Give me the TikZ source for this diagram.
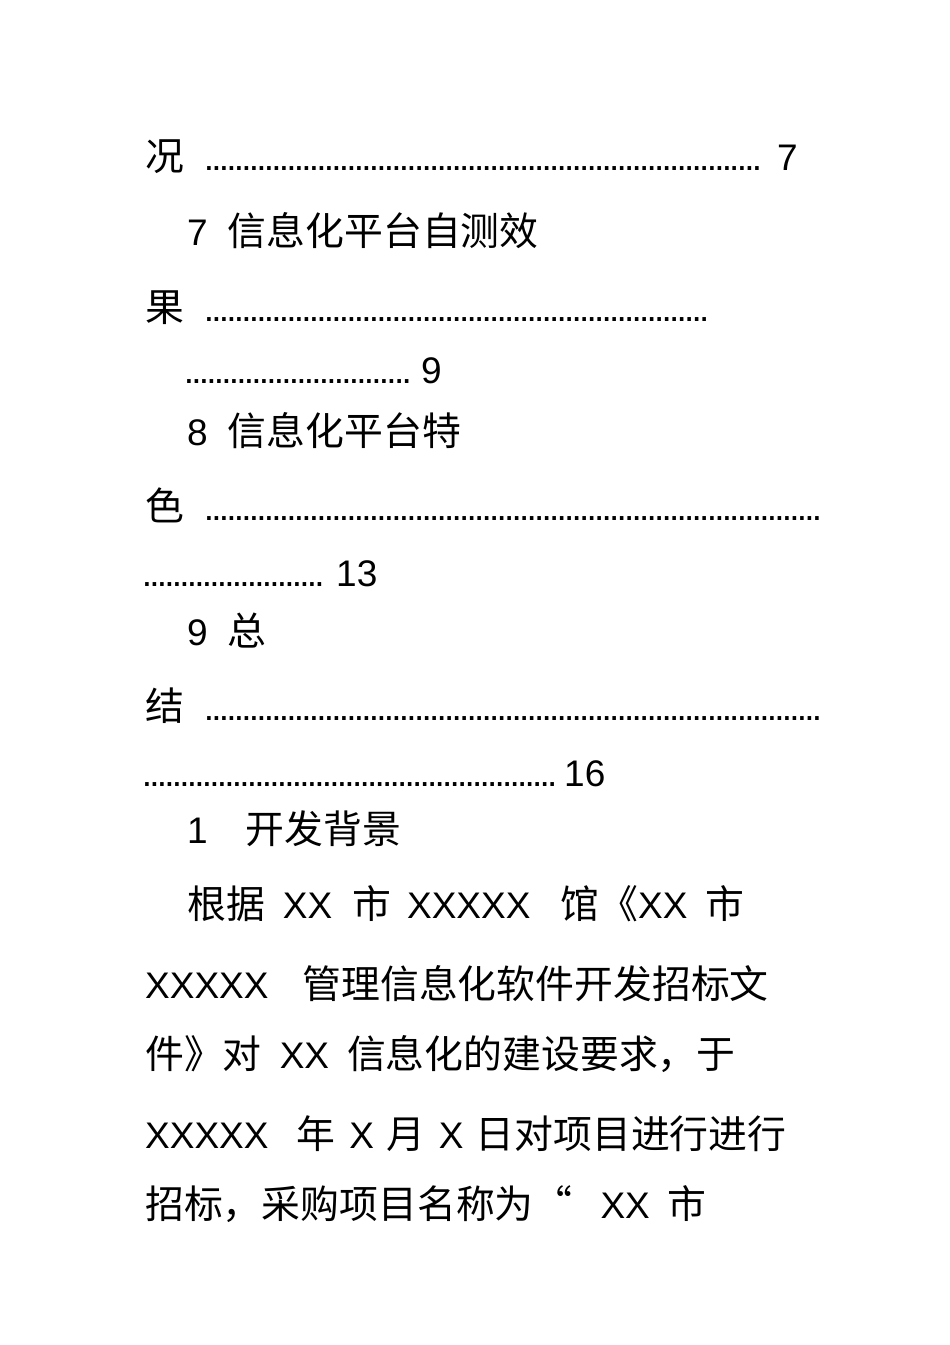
\documentclass[tikz,border=0pt]{standalone}
\usepackage{fontspec}
\setmainfont{Liberation Sans}
\newfontfamily\cjk[Scale=1.05]{Noto Sans CJK SC}
\newcommand{\dts}[1]{\makebox[#1pt][l]{\leaders\hbox to 7.5pt{\hss.\hss}\hfill}}
\begin{document}
\begin{tikzpicture}[x=1pt,y=-1pt,
  txt/.style={anchor=base west,inner sep=0pt,font=\fontsize{37}{37}\selectfont}]
\useasboundingbox (0,0) rectangle (950,1345);
\fill[white] (0,0) rectangle (950,1345);
\node[txt] (a1) at (145,170) {\cjk 况};
\node[txt] (a2) at (205,170) {\dts{562}};
\node[txt] (a3) at (777,170) {7};
\node[txt] (b1) at (187,245) {7\hspace{20pt}{\cjk 信息化平台自测效}};
\node[txt] (c1) at (145,321) {\cjk 果};
\node[txt] (c2) at (205,321) {\dts{508}};
\node[txt] (d1) at (185,383) {\dts{228}};
\node[txt] (d2) at (421,383) {9};
\node[txt] (e1) at (187,445) {8\hspace{20pt}{\cjk 信息化平台特}};
\node[txt] (f1) at (145,520) {\cjk 色};
\node[txt] (f2) at (205,520) {\dts{616}};
\node[txt] (g1) at (143,586) {\dts{186}};
\node[txt] (g2) at (336,586) {13};
\node[txt] (h1) at (187,645) {9\hspace{20pt}{\cjk 总}};
\node[txt] (i1) at (145,720) {\cjk 结};
\node[txt] (i2) at (205,720) {\dts{616}};
\node[txt] (j1) at (143,786) {\dts{414}};
\node[txt] (j2) at (564,786) {16};
\node[txt] (k1) at (187,843) {1\hspace{38pt}{\cjk 开发背景}};
\node[txt] (l1) at (187,918) {{\cjk 根据}\hspace{18pt}XX\hspace{20pt}{\cjk 市}\hspace{16pt}XXXXX\hspace{30pt}{\cjk 馆《}XX\hspace{18pt}{\cjk 市}};
\node[txt] (m1) at (145,998) {XXXXX\hspace{34pt}{\cjk 管理信息化软件开发招标文}};
\node[txt] (n1) at (145,1068) {{\cjk 件》对}\hspace{18pt}XX\hspace{18pt}{\cjk 信息化的建设要求，于}};
\node[txt] (o1) at (145,1148) {XXXXX\hspace{28pt}{\cjk 年}\hspace{14pt}X\hspace{12pt}{\cjk 月}\hspace{14pt}X\hspace{12pt}{\cjk 日对项目进行进行}};
\node[txt] (p1) at (145,1218) {{\cjk 招标，采购项目名称为“}\hspace{28pt}XX\hspace{18pt}{\cjk 市}};
\end{tikzpicture}
\end{document}
